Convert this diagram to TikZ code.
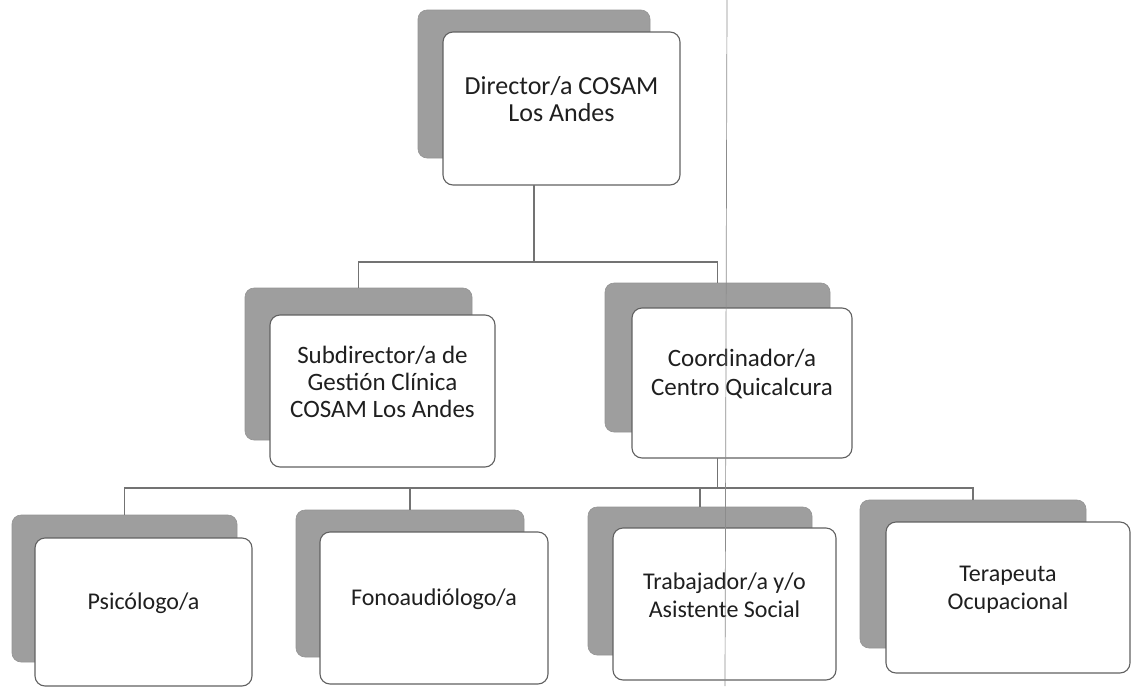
\documentclass[tikz,border=0pt]{standalone}
\usepackage{fontspec}
\setmainfont{Carlito}
\usetikzlibrary{fit}
\begin{document}
\begin{tikzpicture}[x=1pt,y=-1pt,
  shadowbox/.style={fill=black!38, draw=black!42, line width=0.6pt, rounded corners=9pt, inner sep=0pt, outer sep=0pt},
  frontbox/.style={fill=white, draw=black!62, line width=1.1pt, rounded corners=10pt, inner sep=0pt, outer sep=0pt, align=center, text=black!88, font=\fontsize{25}{27}\selectfont},
  smalltext/.style={font=\fontsize{24}{28}\selectfont},
  conn/.style={draw=black!55, line width=1.3pt},
  scanline/.style={draw=black!45, line width=0.7pt}
]
\useasboundingbox (0,0) rectangle (1133,686);

% level 1
\node[shadowbox, fit={(418,10) (650,158)}] (dirsh) {};
\node[frontbox, fit={(443,32) (680,185)}, font=\fontsize{26}{27}\selectfont] (dir) {Director/a COSAM\\Los Andes};

% level 2
\node[shadowbox, fit={(245,288) (472,440)}] (subsh) {};
\node[frontbox, fit={(270,315) (495,467)}] (sub) {Subdirector/a de\\Gestión Clínica\\COSAM Los Andes};
\node[shadowbox, fit={(605,283) (830,432)}] (coosh) {};
\node[frontbox, fit={(632,308) (852,458)}, font=\fontsize{25}{29}\selectfont] (coo) {Coordinador/a\\Centro Quicalcura};

% level 3
\node[shadowbox, fit={(12,515) (237,662)}] (psish) {};
\node[frontbox, smalltext, fit={(35,538) (252,686)}] (psi) {Psicólogo/a};
\node[shadowbox, fit={(296,510) (524,657)}] (fonsh) {};
\node[frontbox, smalltext, fit={(320,532) (548,684)}] (fon) {Fonoaudiólogo/a};
\node[shadowbox, fit={(588,507) (812,655)}] (trash) {};
\node[frontbox, smalltext, fit={(613,528) (836,680)}] (tra) {Trabajador/a y/o\\Asistente Social};
\node[shadowbox, fit={(860,500) (1086,648)}] (tersh) {};
\node[frontbox, smalltext, fit={(886,522) (1130,673)}] (ter) {Terapeuta\\Ocupacional};

% bus coordinates
\coordinate (b1) at (0,262);
\coordinate (b2) at (0,488);

% connectors
\draw[conn] (dirsh.south |- dir.south) -- (dirsh.south |- b1) -| (subsh.north);
\draw[conn] (dirsh.south |- b1) -| (coosh.north);
\draw[conn] (coosh.south |- coo.south) -- (coosh.south |- b2) -| (psish.north);
\draw[conn] (coosh.south |- b2) -| (tersh.north);
\draw[conn] (fonsh.north |- b2) -- (fonsh.north);
\draw[conn] (trash.north |- b2) -- (trash.north);

% scanner line
\draw[scanline] (727,0) -- (725,686);
\end{tikzpicture}
\end{document}
